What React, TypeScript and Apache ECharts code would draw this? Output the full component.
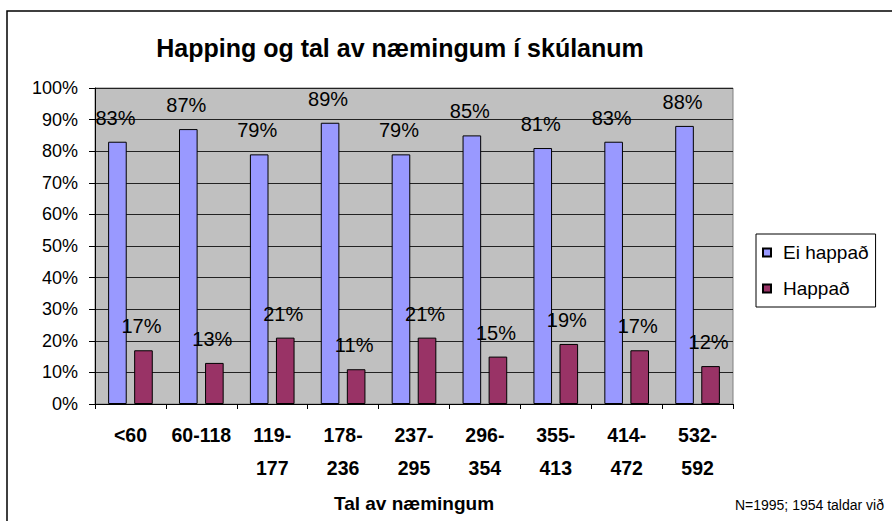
import React, { useEffect, useRef } from "react";
import * as echarts from "echarts";

const categories = ["<60", "60-118", "119-\n177", "178-\n236", "237-\n295", "296-\n354", "355-\n413", "414-\n472", "532-\n592"];
const eiHappad = [83, 87, 79, 89, 79, 85, 81, 83, 88];
const happad = [17, 13, 21, 11, 21, 15, 19, 17, 12];
const seriesNames = ["Ei happað", "Happað"];
const yTicks = { min: 0, max: 100, interval: 10 };
const titleText = "Happing og tal av næmingum í skúlanum";
const xAxisName = "Tal av næmingum";
const footnote = "N=1995; 1954 taldar við";

const FONT = "'Liberation Sans', Arial, sans-serif";

export default function App() {
  const ref = useRef<HTMLDivElement>(null);
  useEffect(() => {
    if (!ref.current) return;
    const chart = echarts.init(ref.current, undefined, { renderer: "svg" });
    const labelCfg = {
      show: true,
      position: "top",
      distance: 14,
      offset: [-2, 0],
      formatter: "{c}%",
      fontSize: 20,
      fontFamily: FONT,
      color: "#000",
    };
    chart.setOption({
      animation: false,
      backgroundColor: "#fff",
      textStyle: { fontFamily: FONT },
      graphic: [
        {
          type: "rect",
          shape: { x: 7, y: 11, width: 900, height: 530 },
          style: { fill: "none", stroke: "#000", lineWidth: 1.5 },
          silent: true,
          z: -10,
        },
        {
          type: "text",
          x: 400,
          y: 48,
          style: {
            text: titleText,
            textAlign: "center",
            textVerticalAlign: "middle",
            fontSize: 25,
            fontWeight: "bold",
            fontFamily: FONT,
            fill: "#000",
          },
        },
        {
          type: "text",
          x: 884,
          y: 505,
          style: {
            text: footnote,
            textAlign: "right",
            textVerticalAlign: "middle",
            fontSize: 14,
            fontFamily: FONT,
            fill: "#000",
          },
        },
      ],
      grid: {
        left: 95,
        right: 159,
        top: 88,
        bottom: 117,
        show: true,
        backgroundColor: "#C0C0C0",
        borderColor: "#808080",
        borderWidth: 1,
      },
      legend: {
        orient: "vertical",
        left: 756,
        top: 234,
        padding: [9, 7, 9, 6],
        itemGap: 17,
        itemWidth: 8,
        itemHeight: 8,
        icon: "rect",
        backgroundColor: "#fff",
        borderColor: "#000",
        borderWidth: 1,
        data: seriesNames,
        formatter: (name: string) => `{t|${name}}`,
        textStyle: {
          rich: {
            t: { fontSize: 19, fontFamily: FONT, color: "#000", padding: [0, 0, 0, 7] },
          },
        },
      },
      xAxis: {
        type: "category",
        data: categories,
        name: xAxisName,
        nameLocation: "middle",
        nameGap: 90,
        nameTextStyle: { fontSize: 19, fontWeight: "bold", fontFamily: FONT, color: "#000" },
        axisLine: { lineStyle: { color: "#000", width: 1 } },
        axisTick: { show: true, length: 5, lineStyle: { color: "#000" } },
        axisLabel: {
          interval: 0,
          fontSize: 19.5,
          fontWeight: "bold",
          fontFamily: FONT,
          color: "#000",
          lineHeight: 33,
          margin: 14,
        },
      },
      yAxis: {
        type: "value",
        min: yTicks.min,
        max: yTicks.max,
        interval: yTicks.interval,
        axisLine: { show: true, lineStyle: { color: "#000", width: 1 } },
        axisTick: { show: true, length: 6, lineStyle: { color: "#000" } },
        splitLine: { show: true, lineStyle: { color: "#222", width: 1 } },
        axisLabel: {
          formatter: "{value}%",
          fontSize: 18,
          fontFamily: FONT,
          color: "#000",
          margin: 17,
        },
      },
      series: [
        {
          name: seriesNames[0],
          type: "bar",
          data: eiHappad,
          barCategoryGap: "37%",
          barGap: "40%",
          itemStyle: { color: "#9999FF", borderColor: "#000", borderWidth: 1 },
          label: labelCfg,
        },
        {
          name: seriesNames[1],
          type: "bar",
          data: happad,
          itemStyle: { color: "#993366", borderColor: "#000", borderWidth: 1 },
          label: labelCfg,
        },
      ],
    });
    return () => chart.dispose();
  }, []);
  return (
    <div
      ref={ref}
      style={{ position: "absolute", left: 0, top: 0, width: 892, height: 521 }}
    />
  );
}
